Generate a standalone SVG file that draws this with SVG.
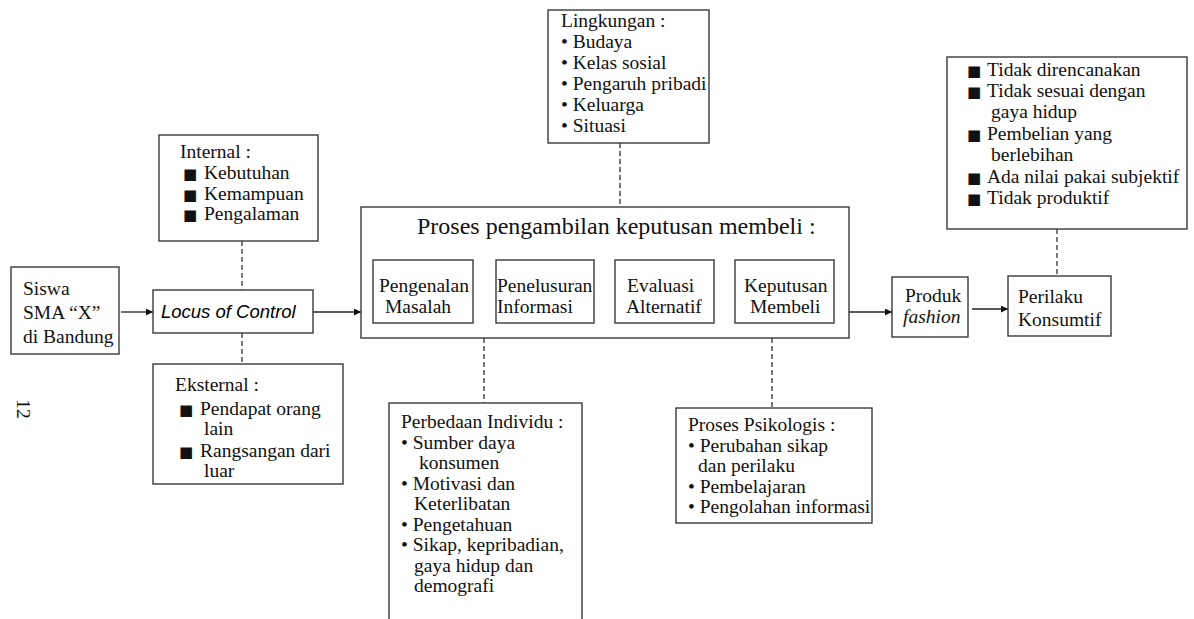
<svg xmlns="http://www.w3.org/2000/svg" width="1194" height="619" viewBox="0 0 1194 619">
<defs>
<marker id="arr" viewBox="0 0 10 10" refX="10" refY="5" markerWidth="9" markerHeight="7" markerUnits="userSpaceOnUse" orient="auto">
<path d="M0,0 L10,5 L0,10 z" fill="#111"/>
</marker>
<style>
.box{fill:#fff;stroke:#3a3a3a;stroke-width:1.4}
.t{font-family:"Liberation Serif","Times New Roman",serif;font-size:19.5px;fill:#111}
.ti{font-style:italic}
.big{font-size:24px}
.sans{font-family:"Liberation Sans",Arial,sans-serif;font-style:italic;font-size:18.5px}
.sq{font-family:"DejaVu Sans",sans-serif;font-size:15px}
.ln{stroke:#222;stroke-width:1.3;fill:none}
.dash{stroke:#222;stroke-width:1.2;fill:none;stroke-dasharray:5,3}
</style>
</defs>
<rect width="1194" height="619" fill="#fff"/>

<g id="connectors">
<line class="ln" x1="121" y1="312" x2="153" y2="312" marker-end="url(#arr)"/>
<line class="ln" x1="313" y1="312" x2="361" y2="312" marker-end="url(#arr)"/>
<line class="ln" x1="849" y1="312" x2="892" y2="312" marker-end="url(#arr)"/>
<line class="ln" x1="972" y1="309" x2="1008" y2="309" marker-end="url(#arr)"/>
<line class="ln" x1="473" y1="294" x2="496" y2="294"/>
<line class="ln" x1="594" y1="294" x2="615" y2="294"/>
<line class="ln" x1="714" y1="294" x2="735" y2="294"/>
<line class="dash" x1="242" y1="241" x2="242" y2="290"/>
<line class="dash" x1="242" y1="333" x2="242" y2="364"/>
<line class="dash" x1="620" y1="143" x2="620" y2="207"/>
<line class="dash" x1="484" y1="338" x2="484" y2="403"/>
<line class="dash" x1="772" y1="338" x2="772" y2="408"/>
<line class="dash" x1="1057" y1="229" x2="1057" y2="276"/>
</g>

<g id="page-number">
<text class="t" font-size="18" text-anchor="middle" transform="translate(17,409) rotate(90)">12</text>
</g>

<g id="siswa">
<rect class="box" x="11" y="267" width="108" height="87"/>
<text class="t" x="23" y="295">Siswa</text>
<text class="t" x="23" y="319">SMA “X”</text>
<text class="t" x="23" y="343">di Bandung</text>
</g>

<g id="locus">
<rect class="box" x="153" y="290" width="160" height="43"/>
<text class="sans" x="161" y="318">Locus of Control</text>
</g>

<g id="internal">
<rect class="box" x="159" y="135" width="159" height="106"/>
<text class="t" x="180" y="158">Internal :</text>
<text class="t" x="183" y="179"><tspan class="sq">■</tspan><tspan x="204">Kebutuhan</tspan></text>
<text class="t" x="183" y="200"><tspan class="sq">■</tspan><tspan x="204">Kemampuan</tspan></text>
<text class="t" x="183" y="220"><tspan class="sq">■</tspan><tspan x="204">Pengalaman</tspan></text>
</g>

<g id="eksternal">
<rect class="box" x="153" y="364" width="190" height="120"/>
<text class="t" x="175" y="391">Eksternal :</text>
<text class="t" x="179" y="415"><tspan class="sq">■</tspan><tspan x="200">Pendapat orang</tspan></text>
<text class="t" x="204" y="435">lain</text>
<text class="t" x="179" y="457"><tspan class="sq">■</tspan><tspan x="200">Rangsangan dari</tspan></text>
<text class="t" x="204" y="477">luar</text>
</g>

<g id="proses">
<rect class="box" x="361" y="207" width="488" height="131"/>
<text class="t big" x="417" y="234">Proses pengambilan keputusan membeli :</text>
</g>

<g id="pengenalan">
<rect class="box" x="373" y="260" width="100" height="63"/>
<text class="t" x="379" y="292">Pengenalan</text>
<text class="t" x="385" y="313">Masalah</text>
</g>
<g id="penelusuran">
<rect class="box" x="496" y="260" width="98" height="63"/>
<text class="t" x="497" y="292">Penelusuran</text>
<text class="t" x="497" y="313">Informasi</text>
</g>
<g id="evaluasi">
<rect class="box" x="615" y="260" width="99" height="63"/>
<text class="t" x="627" y="292">Evaluasi</text>
<text class="t" x="626" y="313">Alternatif</text>
</g>
<g id="keputusan">
<rect class="box" x="735" y="260" width="99" height="63"/>
<text class="t" x="744" y="292">Keputusan</text>
<text class="t" x="750" y="313">Membeli</text>
</g>

<g id="lingkungan">
<rect class="box" x="548" y="10" width="161" height="133"/>
<text class="t" x="561" y="27">Lingkungan :</text>
<text class="t" x="561" y="48">• Budaya</text>
<text class="t" x="561" y="69">• Kelas sosial</text>
<text class="t" x="561" y="90">• Pengaruh pribadi</text>
<text class="t" x="561" y="111">• Keluarga</text>
<text class="t" x="561" y="132">• Situasi</text>
</g>

<g id="perbedaan">
<rect class="box" x="389" y="403" width="193" height="225"/>
<text class="t" x="401" y="428">Perbedaan Individu :</text>
<text class="t" x="401" y="449">• Sumber daya</text>
<text class="t" x="419" y="469">konsumen</text>
<text class="t" x="401" y="490">• Motivasi dan</text>
<text class="t" x="414" y="510">Keterlibatan</text>
<text class="t" x="401" y="531">• Pengetahuan</text>
<text class="t" x="401" y="551">• Sikap, kepribadian,</text>
<text class="t" x="414" y="572">gaya hidup dan</text>
<text class="t" x="414" y="592">demografi</text>
</g>

<g id="psikologis">
<rect class="box" x="676" y="408" width="196" height="115"/>
<text class="t" x="688" y="431">Proses Psikologis :</text>
<text class="t" x="688" y="452">• Perubahan sikap</text>
<text class="t" x="698" y="472">dan perilaku</text>
<text class="t" x="688" y="493">• Pembelajaran</text>
<text class="t" x="688" y="513">• Pengolahan informasi</text>
</g>

<g id="produk">
<rect class="box" x="892" y="277" width="76" height="60"/>
<text class="t" x="905" y="302">Produk</text>
<text class="t ti" x="903" y="323">fashion</text>
</g>

<g id="perilaku">
<rect class="box" x="1008" y="276" width="103" height="60"/>
<text class="t" x="1018" y="303">Perilaku</text>
<text class="t" x="1018" y="326">Konsumtif</text>
</g>

<g id="ciri">
<rect class="box" x="947" y="57" width="240" height="172"/>
<text class="t" x="967" y="76"><tspan class="sq">■</tspan><tspan x="987">Tidak direncanakan</tspan></text>
<text class="t" x="967" y="97"><tspan class="sq">■</tspan><tspan x="987">Tidak sesuai dengan</tspan></text>
<text class="t" x="991" y="118">gaya hidup</text>
<text class="t" x="967" y="140"><tspan class="sq">■</tspan><tspan x="987">Pembelian yang</tspan></text>
<text class="t" x="991" y="161">berlebihan</text>
<text class="t" x="967" y="183"><tspan class="sq">■</tspan><tspan x="987">Ada nilai pakai subjektif</tspan></text>
<text class="t" x="967" y="204"><tspan class="sq">■</tspan><tspan x="987">Tidak produktif</tspan></text>
</g>
</svg>
